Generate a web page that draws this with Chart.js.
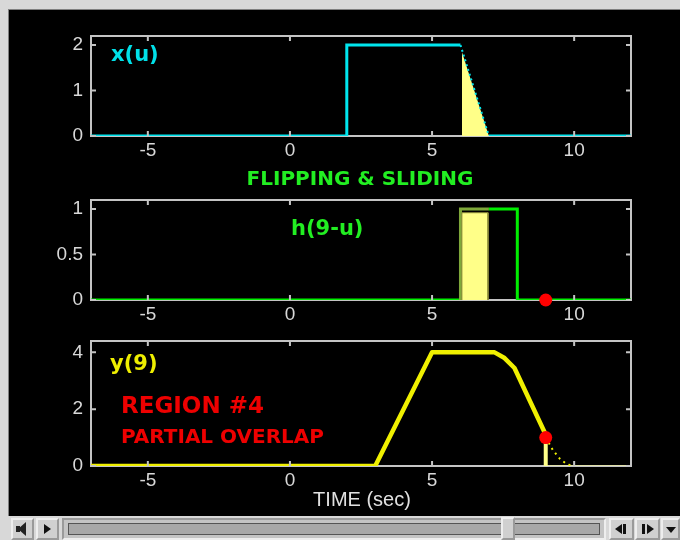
<!DOCTYPE html>
<html>
<head>
<meta charset="utf-8">
<script src="https://cdn.jsdelivr.net/npm/chart.js@4"></script>
<style>
  html, body { margin: 0; padding: 0; }
  body { width: 680px; height: 540px; position: relative; overflow: hidden; background: #d8d8d8; }
  #screen { position: absolute; left: 8px; top: 9px; width: 672px; height: 507px; background: #000;
            border-left: 1px solid #808080; border-top: 1px solid #808080; box-sizing: border-box; }
  canvas { position: absolute; left: 0; }
  .lbl { position: absolute; white-space: nowrap; line-height: 1; font-family: "DejaVu Sans", sans-serif; font-weight: bold; }
  .btn { position: absolute; top: 518px; height: 22px; box-sizing: border-box; background: #d0d0d0;
         border: 2px outset #eeeeee; }
  .tri { position: absolute; width: 0; height: 0; }
</style>
</head>
<body>
<div id="screen"></div>
<canvas id="c1" width="680" height="150" style="top:16px"></canvas>
<canvas id="c2" width="680" height="150" style="top:180px"></canvas>
<canvas id="c3" width="680" height="175" style="top:321px"></canvas>

<div class="lbl" style="left:111px;top:44px;font-size:21px;color:#00e0e8">x(u)</div>
<div class="lbl" style="left:360px;top:168px;font-size:20px;color:#22ee22;transform:translateX(-50%)">FLIPPING &amp; SLIDING</div>
<div class="lbl" style="left:291px;top:218px;font-size:21px;color:#22ee22">h(9-u)</div>
<div class="lbl" style="left:110px;top:353px;font-size:21px;color:#eeee00">y(9)</div>
<div class="lbl" style="left:121px;top:394px;font-size:23px;color:#ee0000">REGION #4</div>
<div class="lbl" style="left:121px;top:426px;font-size:20px;color:#ee0000">PARTIAL OVERLAP</div>
<div class="lbl" style="left:362px;top:489px;font-size:20px;color:#e0e0e0;font-family:'Liberation Sans',Arial,sans-serif;font-weight:normal;transform:translateX(-50%)">TIME (sec)</div>

<!-- player bar -->
<div class="btn" style="left:11px;width:23px">
  <div style="position:absolute;left:3px;top:6px;width:4px;height:6px;background:#222"></div>
  <div class="tri" style="left:5px;top:2px;border-top:7px solid transparent;border-bottom:7px solid transparent;border-right:8px solid #222"></div>
</div>
<div class="btn" style="left:36px;width:23px"><div class="tri" style="left:6px;top:4px;border-top:5px solid transparent;border-bottom:5px solid transparent;border-left:7px solid #111"></div></div>
<div class="btn" style="left:62px;width:544px;border-style:inset;background:#c4c4c4"><div style="position:absolute;left:4px;right:4px;top:3px;bottom:3px;background:#a8a8a8;border:1px solid #555"></div></div>
<div class="btn" style="left:501px;width:14px;top:517px;height:23px"></div>
<div class="btn" style="left:609px;width:25px">
  <div style="position:absolute;left:12px;top:4px;width:3px;height:10px;background:#111"></div>
  <div class="tri" style="left:4px;top:4px;border-top:5px solid transparent;border-bottom:5px solid transparent;border-right:7px solid #111"></div>
</div>
<div class="btn" style="left:635px;width:25px">
  <div style="position:absolute;left:5px;top:4px;width:3px;height:10px;background:#111"></div>
  <div class="tri" style="left:10px;top:4px;border-top:5px solid transparent;border-bottom:5px solid transparent;border-left:7px solid #111"></div>
</div>
<div class="btn" style="left:661px;width:19px"><div class="tri" style="left:3px;top:7px;border-left:5px solid transparent;border-right:5px solid transparent;border-top:6px solid #111"></div></div>

<script>
// axis ranges and ticks
const X_MIN = -7, X_MAX = 12;
const xTicks = [-5, 0, 5, 10];
const yTicksTop = [0, 1, 2];
const yTicksMid = [0, 0.5, 1];
const yTicksBot = [0, 2, 4];

// x(u)
const xuU = [-7, 2, 2, 6];
const xuV = [0, 0, 2, 2];
const xuRampU = [6, 7];
const xuRampV = [2, 0];
const xuTailU = [7, 12];
const xuTailV = [0, 0];
const xuFillU = [6.05, 6.05, 7];
const xuFillV = [0, 1.85, 0];

// h(9-u)
const hU = [-7, 6, 6, 7, 8, 8, 12];
const hV = [0, 0, 1, 1, 1, 0, 0];
const hFillU = [6.05, 6.05, 6.97, 6.97];
const hFillV = [0, 0.96, 0.96, 0];
const hDotU = [9];
const hDotV = [0];

// y(9)
const yU = [-7, 3, 5, 7.2, 7.55, 7.9, 9];
const yV = [0, 0, 4, 4, 3.8, 3.45, 1.1];
const yNextU = [9, 9.25, 9.5, 9.75, 10];
const yNextV = [1, 0.56, 0.25, 0.06, 0];
const yStemU = [9, 9];
const yStemV = [0, 0.8];
const yTailU = [9, 12];
const yTailV = [0, 0];
const yDotU = [9];
const yDotV = [1];

const CYAN = '#00e5ee', GREEN = '#00ee00', OLIVE = '#7fa83a', YELLOW = '#f0f000',
      PALE = '#ffff88', RED = '#ff0000', FRAME = '#c4c4c4', TICKTXT = '#d8d8d8';

const pts = (us, vs) => us.map((u, i) => ({ x: u, y: vs[i] }));

function line(us, vs, color, width, extra) {
  return Object.assign({ data: pts(us, vs), showLine: true, borderColor: color, borderWidth: width,
    pointRadius: 0, fill: false, tension: 0 }, extra || {});
}
function dot(us, vs) {
  return { data: pts(us, vs), showLine: false, pointRadius: 6.5, pointBackgroundColor: RED,
    pointBorderWidth: 0, clip: false };
}

const framePlugin = {
  id: 'frame',
  beforeDatasetsDraw(chart) {
    const { ctx, chartArea: a } = chart;
    ctx.save();
    ctx.strokeStyle = FRAME;
    ctx.lineWidth = 2;
    ctx.strokeRect(a.left, a.top, a.right - a.left, a.bottom - a.top);
    ctx.restore();
  },
  afterDatasetsDraw(chart) {
    const { ctx, chartArea: a, scales: { x, y } } = chart;
    ctx.save();
    ctx.strokeStyle = FRAME;
    ctx.lineWidth = 2;
    ctx.beginPath();
    x.ticks.forEach(t => {
      const px = x.getPixelForValue(t.value);
      ctx.moveTo(px, a.top); ctx.lineTo(px, a.top + 5);
      ctx.moveTo(px, a.bottom); ctx.lineTo(px, a.bottom - 5);
    });
    y.ticks.forEach(t => {
      const py = y.getPixelForValue(t.value);
      ctx.moveTo(a.left, py); ctx.lineTo(a.left + 5, py);
      ctx.moveTo(a.right, py); ctx.lineTo(a.right - 5, py);
    });
    ctx.stroke();
    ctx.restore();
  }
};

function makeChart(id, datasets, yMax, yTicks) {
  const tickFont = { family: "'Liberation Sans', Arial, sans-serif", size: 19 };
  return new Chart(document.getElementById(id), {
    type: 'scatter',
    data: { datasets: datasets },
    options: {
      responsive: false,
      animation: false,
      events: [],
      layout: { padding: { left: 0, right: 49, top: 20, bottom: 0 } },
      plugins: { legend: { display: false }, tooltip: { enabled: false } },
      scales: {
        x: {
          type: 'linear', min: X_MIN, max: X_MAX,
          afterBuildTicks: s => { s.ticks = xTicks.map(v => ({ value: v })); },
          afterFit: s => { s.height = 30; },
          grid: { display: false, drawTicks: false },
          border: { display: false },
          ticks: { color: TICKTXT, font: tickFont, padding: 3, maxRotation: 0, autoSkip: false,
                   callback: v => String(v) }
        },
        y: {
          type: 'linear', min: 0, max: yMax,
          afterBuildTicks: s => { s.ticks = yTicks.map(v => ({ value: v })); },
          afterFit: s => { s.width = 91; },
          grid: { display: false, drawTicks: false },
          border: { display: false },
          ticks: { color: TICKTXT, font: tickFont, padding: 8, autoSkip: false,
                   callback: v => String(v) }
        }
      }
    },
    plugins: [framePlugin]
  });
}

// first dataset is drawn on top
makeChart('c1', [
  line(xuRampU, xuRampV, CYAN, 2, { borderDash: [2, 3] }),
  line(xuU, xuV, CYAN, 3),
  line(xuTailU, xuTailV, CYAN, 3),
  line(xuFillU, xuFillV, PALE, 0, { fill: 'origin', backgroundColor: PALE })
], 2.2, yTicksTop);

makeChart('c2', [
  dot(hDotU, hDotV),
  line(hFillU, hFillV, '#8c8c3a', 1, { fill: 'origin', backgroundColor: PALE }),
  line(hU, hV, GREEN, 3, {
    segment: { borderColor: c => (c.p0.parsed.x >= 6 && c.p1.parsed.x <= 7) ? OLIVE : GREEN }
  })
], 1.1, yTicksMid);

makeChart('c3', [
  dot(yDotU, yDotV),
  line(yU, yV, YELLOW, 4.5, { borderJoinStyle: 'round' }),
  line(yNextU, yNextV, YELLOW, 2, { borderDash: [2, 4] }),
  line(yStemU, yStemV, PALE, 4),
  line(yTailU, yTailV, '#e8e8a0', 1.5)
], 4.4, yTicksBot);
</script>
</body>
</html>
